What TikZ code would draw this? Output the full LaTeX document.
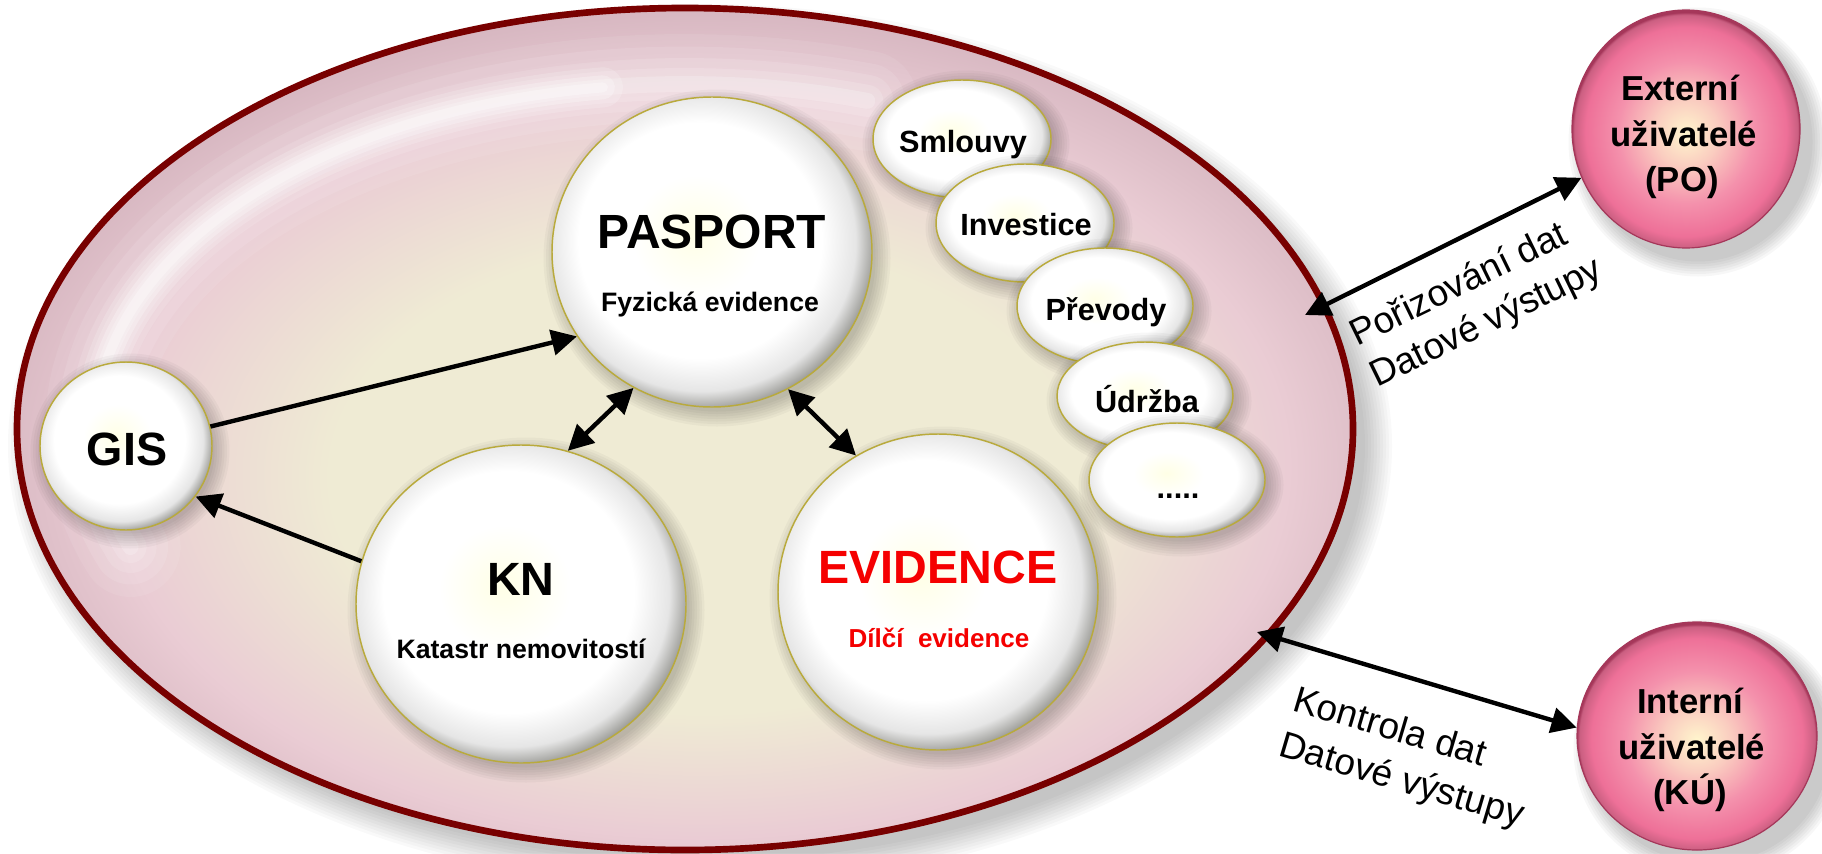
\documentclass[tikz,border=0pt]{standalone}
\usepackage{fontspec}
\setmainfont{Liberation Sans}
\usetikzlibrary{arrows.meta,shapes.geometric,calc}

\definecolor{borderred}{RGB}{120,0,0}
\definecolor{ringpink}{RGB}{234,204,212}
\definecolor{rimmauve}{RGB}{214,182,192}
\definecolor{innerbeige}{RGB}{239,235,212}
\definecolor{bubcenter}{RGB}{255,255,230}
\definecolor{bubrim}{RGB}{128,128,122}
\definecolor{bubline}{RGB}{185,170,60}
\definecolor{pk0}{RGB}{255,246,205}
\definecolor{pk1}{RGB}{250,205,192}
\definecolor{pk2}{RGB}{244,145,172}
\definecolor{pk3}{RGB}{238,112,152}
\definecolor{pk4}{RGB}{165,55,90}
\definecolor{evred}{RGB}{245,0,0}

\pgfdeclareradialshading{bubble}{\pgfpoint{-3bp}{3bp}}{color(0bp)=(bubcenter); color(10bp)=(white); color(19bp)=(white); color(24bp)=(white!80!gray); color(28bp)=(bubrim); color(50bp)=(bubrim)}
\pgfdeclareradialshading{pinkball}{\pgfpoint{0bp}{-1bp}}{color(0bp)=(pk0); color(7bp)=(pk1); color(15bp)=(pk2); color(22bp)=(pk3); color(24.5bp)=(pk3!85!black); color(25bp)=(pk4); color(50bp)=(pk4)}
\pgfdeclareradialshading{bigfill}{\pgfpoint{1bp}{-4bp}}{color(0bp)=(innerbeige); color(14bp)=(innerbeige); color(22bp)=(ringpink); color(27bp)=(rimmauve); color(50bp)=(rimmauve)}

\newcommand\szBig{\fontsize{36}{43}\selectfont\bfseries}
\newcommand\szKN{\fontsize{35}{42}\selectfont\bfseries}
\newcommand\szSub{\fontsize{20}{24}\selectfont\bfseries}
\newcommand\szSmall{\fontsize{23}{28}\selectfont\bfseries}
\newcommand\szUser{\fontsize{26}{31}\selectfont\bfseries}
\newcommand\softshadow[4]{%
  \foreach \k in {1,...,7}{\fill[black,opacity=0.03] (#1,#2) ellipse [x radius={#3+\k*2.5}, y radius={#4+\k*2.5}];}}

\begin{document}
\begin{tikzpicture}[x=0.75pt,y=-0.75pt,
  bub/.style={ellipse, draw=bubline, line width=1.1pt, shade, shading=bubble, inner sep=0pt},
  pinkb/.style={ellipse, draw=pk4, line width=0.9pt, shade, shading=pinkball, inner sep=0pt},
  tb/.style={inner sep=0pt, anchor=base},
  arr/.style={line width=3.3pt, -{Triangle[length=19pt,width=19pt]}},
  darr/.style={line width=3.3pt, {Triangle[length=19pt,width=19pt]}-{Triangle[length=19pt,width=19pt]}},
  lab/.style={inner sep=0pt, anchor=base west, font=\fontsize{27.75}{33}\selectfont}
]
\useasboundingbox (0,0) rectangle (1822,853);
\fill[white] (0,0) rectangle (1822,853);

% big ellipse shadow and body
\foreach \k in {1,...,10}{\fill[black,opacity=0.025] (700,446) ellipse [x radius={662+\k*3}, y radius={412+\k*3}];}
\node[ellipse, minimum width=1002pt, minimum height=631.5pt, inner sep=0pt,
      shade, shading=bigfill, draw=borderred, line width=5pt] (big) at (685,429) {};
% glossy highlight band
\foreach \w/\o in {100/0.08,75/0.1,52/0.12,32/0.15,16/0.2}{
  \draw[white, line width=\w*0.75pt, opacity=\o, line cap=round]
    plot[domain=72:200, samples=60] ({685+590*cos(\x)},{429-345*sin(\x)});}
\foreach \w/\o in {40/0.18,24/0.25,10/0.3}{
  \draw[white, line width=\w*0.75pt, opacity=\o, line cap=round]
    plot[domain=98:170, samples=40] ({685+590*cos(\x)},{429-345*sin(\x)});}

% small bubbles
\softshadow{966}{144}{86}{56}
\node[bub, minimum width=133.5pt, minimum height=88.5pt] (sml) at (962,139) {};
\softshadow{1029}{228}{86}{56}
\node[bub, minimum width=133.5pt, minimum height=88.5pt] (inv) at (1025,223) {};
\softshadow{1109}{311}{85}{55}
\node[bub, minimum width=132pt, minimum height=87pt] (pre) at (1105,306) {};
\softshadow{1149}{401}{85}{51}
\node[bub, minimum width=132pt, minimum height=81pt] (udr) at (1145,396) {};
\softshadow{1181}{485}{85}{54}
\node[bub, minimum width=132pt, minimum height=85.5pt] (dots) at (1177,480) {};

% main bubbles
\softshadow{130}{451}{82}{80}
\node[bub, minimum width=129pt, minimum height=126pt] (gis) at (126,446) {};
\softshadow{717}{258}{156}{151}
\node[bub, minimum width=240pt, minimum height=232.5pt] (pas) at (712,252) {};
\softshadow{526}{610}{161}{155}
\node[bub, minimum width=247.5pt, minimum height=238.5pt] (kn) at (521,604) {};
\softshadow{943}{598}{156}{154}
\node[bub, minimum width=240pt, minimum height=237pt] (ev) at (938,592) {};

% user bubbles
\softshadow{1698}{142}{112}{117}
\node[pinkb, minimum width=171pt, minimum height=178.5pt] (ext) at (1686,129) {};
\softshadow{1709}{749}{118}{112}
\node[pinkb, minimum width=180pt, minimum height=171pt] (int) at (1697,736) {};

% texts
\node[tb, font=\szBig] (tpas) at (712,248) {PASPORT};
\node[tb, font=\szSub] (tpas2) at (710,311) {Fyzická evidence};
\node[tb, font=\szKN] (tkn) at (521,595) {KN};
\node[tb, font=\szSub] (tkn2) at (521,658) {Katastr nemovitostí};
\node[tb, font=\szKN, text=evred] (tev) at (938,583) {EVIDENCE};
\node[tb, font=\fontsize{19.5}{23}\selectfont\bfseries, text=evred] (tev2) at (939,647) {Dílčí \ evidence};
\node[tb, font=\szKN] (tgis) at (127,465) {GIS};
\node[tb, font=\szSmall] (tsml) at (963,152) {Smlouvy};
\node[tb, font=\szSmall] (tinv) at (1026,235) {Investice};
\node[tb, font=\szSmall] (tpre) at (1106,320) {Převody};
\node[tb, font=\szSmall] (tudr) at (1147,412) {Údržba};
\node[tb, font=\szSmall] (tdots) at (1178,498) {.....};
\node[tb, font=\szUser] (text1) at (1680,100) {Externí};
\node[tb, font=\szUser] (text2) at (1684,146) {uživatelé};
\node[tb, font=\szUser] (text3) at (1682,191) {(PO)};
\node[tb, font=\szUser] (tint1) at (1690,713) {Interní};
\node[tb, font=\szUser] (tint2) at (1692,759) {uživatelé};
\node[tb, font=\szUser] (tint3) at (1690,804) {(KÚ)};

% connectors
\coordinate (bigA) at (1305,315);
\coordinate (bigB) at (1257,632);
\draw[arr] (gis.13) -- (pas.212);
\draw[arr] (kn.165) -- (gis.-36);
\draw[darr] (pas.240) -- (kn.73);
\draw[darr] (pas.299) -- (ev.121);
\draw[darr] (bigA) -- (ext.205);
\draw[darr] (bigB) -- (int.176);

% labels
\node[lab, rotate=26] (l1a) at (1357,347) {Pořizování dat};
\node[lab, rotate=26] (l1b) at (1377,388) {Datové výstupy};
\node[lab, rotate=-16.5] (l2a) at (1291,710) {Kontrola dat};
\node[lab, rotate=-16.5] (l2b) at (1277,755) {Datové výstupy};
\end{tikzpicture}
\end{document}
